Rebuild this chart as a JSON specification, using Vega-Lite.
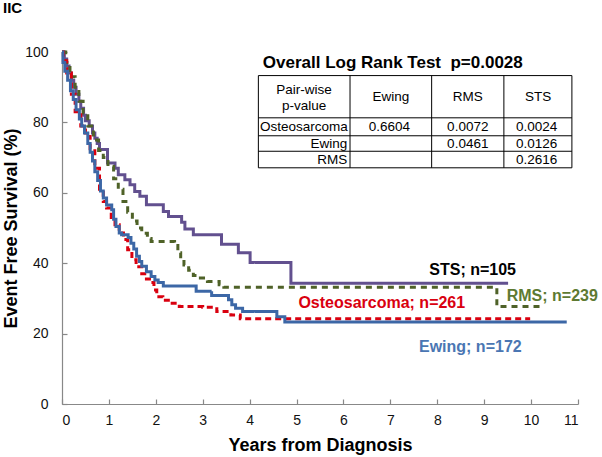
{
  "$schema": "https://vega.github.io/schema/vega-lite/v6.json",
  "width": 516,
  "height": 352,
  "autosize": {"type": "none"},
  "padding": {"left": 62, "top": 52, "right": 24, "bottom": 53},
  "background": "white",
  "title": {"text": "IIC", "anchor": "start", "frame": "group", "dx": -59, "offset": 17, "baseline": "alphabetic", "fontSize": 15, "fontWeight": "bold", "font": "Liberation Sans", "color": "#000"},
  "config": {
    "view": {"stroke": null},
    "font": "Liberation Sans",
    "axis": {"grid": false, "domainColor": "#888", "tickColor": "#888", "labelColor": "#111", "titleColor": "#000", "labelFont": "Liberation Sans", "titleFont": "Liberation Sans", "labelFontSize": 14, "titleFontSize": 18, "titleFontWeight": "bold", "tickSize": -5, "domainWidth": 1.2, "tickWidth": 1.2}
  },
  "datasets": {
    "curves": [
      {"group":"STS","t":0,"v":100},{"group":"STS","t":0.05,"v":98},{"group":"STS","t":0.1,"v":96},{"group":"STS","t":0.15,"v":94},{"group":"STS","t":0.2,"v":92},{"group":"STS","t":0.25,"v":90},{"group":"STS","t":0.3,"v":88},{"group":"STS","t":0.36,"v":86},{"group":"STS","t":0.4,"v":84},{"group":"STS","t":0.46,"v":82},{"group":"STS","t":0.5,"v":80.5},{"group":"STS","t":0.58,"v":79},{"group":"STS","t":0.65,"v":77},{"group":"STS","t":0.7,"v":75.5},{"group":"STS","t":0.75,"v":74},{"group":"STS","t":0.8,"v":72.3},{"group":"STS","t":0.97,"v":68.5},{"group":"STS","t":1.13,"v":67},{"group":"STS","t":1.2,"v":65.1},{"group":"STS","t":1.34,"v":63.7},{"group":"STS","t":1.45,"v":62.3},{"group":"STS","t":1.55,"v":60.4},{"group":"STS","t":1.66,"v":59},{"group":"STS","t":1.8,"v":56.6},{"group":"STS","t":2.16,"v":54.7},{"group":"STS","t":2.27,"v":53.3},{"group":"STS","t":2.55,"v":51.6},{"group":"STS","t":2.62,"v":49.7},{"group":"STS","t":2.8,"v":48.1},{"group":"STS","t":3.4,"v":45.4},{"group":"STS","t":3.76,"v":43},{"group":"STS","t":4.01,"v":40.2},{"group":"STS","t":4.88,"v":34.3},{"group":"STS","t":9.51,"v":34.3},
      {"group":"RMS","t":0,"v":100},{"group":"RMS","t":0.08,"v":97},{"group":"RMS","t":0.17,"v":93},{"group":"RMS","t":0.28,"v":90},{"group":"RMS","t":0.36,"v":86},{"group":"RMS","t":0.45,"v":82.7},{"group":"RMS","t":0.55,"v":79},{"group":"RMS","t":0.67,"v":75},{"group":"RMS","t":0.78,"v":72},{"group":"RMS","t":0.88,"v":70},{"group":"RMS","t":0.98,"v":67.5},{"group":"RMS","t":1.1,"v":64},{"group":"RMS","t":1.2,"v":61},{"group":"RMS","t":1.3,"v":57.5},{"group":"RMS","t":1.4,"v":54.5},{"group":"RMS","t":1.5,"v":52},{"group":"RMS","t":1.6,"v":50},{"group":"RMS","t":1.7,"v":48.5},{"group":"RMS","t":1.82,"v":47},{"group":"RMS","t":1.9,"v":46.2},{"group":"RMS","t":2.4,"v":45},{"group":"RMS","t":2.47,"v":43},{"group":"RMS","t":2.53,"v":41},{"group":"RMS","t":2.6,"v":39.5},{"group":"RMS","t":2.7,"v":38},{"group":"RMS","t":2.8,"v":36.5},{"group":"RMS","t":2.95,"v":35.8},{"group":"RMS","t":3.1,"v":34.8},{"group":"RMS","t":3.35,"v":33.9},{"group":"RMS","t":3.45,"v":33.2},{"group":"RMS","t":9.27,"v":27.7},{"group":"RMS","t":10.23,"v":27.7},
      {"group":"Osteosarcoma","t":0,"v":100},{"group":"Osteosarcoma","t":0.03,"v":97.5},{"group":"Osteosarcoma","t":0.1,"v":94},{"group":"Osteosarcoma","t":0.2,"v":88},{"group":"Osteosarcoma","t":0.28,"v":83},{"group":"Osteosarcoma","t":0.4,"v":79},{"group":"Osteosarcoma","t":0.5,"v":76},{"group":"Osteosarcoma","t":0.6,"v":72.5},{"group":"Osteosarcoma","t":0.7,"v":67},{"group":"Osteosarcoma","t":0.8,"v":61},{"group":"Osteosarcoma","t":0.88,"v":57.5},{"group":"Osteosarcoma","t":0.95,"v":55.7},{"group":"Osteosarcoma","t":1.05,"v":53},{"group":"Osteosarcoma","t":1.13,"v":50.9},{"group":"Osteosarcoma","t":1.22,"v":48.6},{"group":"Osteosarcoma","t":1.31,"v":46.7},{"group":"Osteosarcoma","t":1.4,"v":43.8},{"group":"Osteosarcoma","t":1.49,"v":41},{"group":"Osteosarcoma","t":1.58,"v":39},{"group":"Osteosarcoma","t":1.7,"v":37},{"group":"Osteosarcoma","t":1.8,"v":35.5},{"group":"Osteosarcoma","t":1.9,"v":34.5},{"group":"Osteosarcoma","t":1.96,"v":32.4},{"group":"Osteosarcoma","t":2.02,"v":30.5},{"group":"Osteosarcoma","t":2.15,"v":29.5},{"group":"Osteosarcoma","t":2.3,"v":28.6},{"group":"Osteosarcoma","t":2.5,"v":27.7},{"group":"Osteosarcoma","t":3.0,"v":27.5},{"group":"Osteosarcoma","t":3.3,"v":26.3},{"group":"Osteosarcoma","t":3.6,"v":25.3},{"group":"Osteosarcoma","t":3.8,"v":24.2},{"group":"Osteosarcoma","t":9.98,"v":24.2},
      {"group":"Ewing","t":0,"v":100},{"group":"Ewing","t":0.02,"v":97},{"group":"Ewing","t":0.06,"v":94.5},{"group":"Ewing","t":0.12,"v":92},{"group":"Ewing","t":0.18,"v":89},{"group":"Ewing","t":0.24,"v":86.5},{"group":"Ewing","t":0.3,"v":83.6},{"group":"Ewing","t":0.37,"v":81},{"group":"Ewing","t":0.42,"v":79},{"group":"Ewing","t":0.48,"v":77},{"group":"Ewing","t":0.55,"v":74},{"group":"Ewing","t":0.6,"v":71.5},{"group":"Ewing","t":0.65,"v":69},{"group":"Ewing","t":0.7,"v":66},{"group":"Ewing","t":0.76,"v":63.5},{"group":"Ewing","t":0.82,"v":60.5},{"group":"Ewing","t":0.88,"v":58.5},{"group":"Ewing","t":0.95,"v":56.5},{"group":"Ewing","t":1.06,"v":55.2},{"group":"Ewing","t":1.1,"v":52.5},{"group":"Ewing","t":1.15,"v":50.4},{"group":"Ewing","t":1.22,"v":48.6},{"group":"Ewing","t":1.27,"v":48.1},{"group":"Ewing","t":1.41,"v":47.3},{"group":"Ewing","t":1.47,"v":45.7},{"group":"Ewing","t":1.53,"v":44},{"group":"Ewing","t":1.59,"v":42},{"group":"Ewing","t":1.65,"v":40.5},{"group":"Ewing","t":1.7,"v":39.1},{"group":"Ewing","t":1.8,"v":37.6},{"group":"Ewing","t":1.9,"v":36.2},{"group":"Ewing","t":1.98,"v":35.2},{"group":"Ewing","t":2.05,"v":34.5},{"group":"Ewing","t":2.16,"v":33.5},{"group":"Ewing","t":2.86,"v":32},{"group":"Ewing","t":3.19,"v":30.8},{"group":"Ewing","t":3.55,"v":29.6},{"group":"Ewing","t":3.62,"v":28.2},{"group":"Ewing","t":3.7,"v":27.2},{"group":"Ewing","t":3.85,"v":26.3},{"group":"Ewing","t":4.58,"v":24.8},{"group":"Ewing","t":4.75,"v":23.3},{"group":"Ewing","t":10.76,"v":23.3}
    ],
    "labels": [
      {"group":"STS","label":"STS; n=105","t":7.83,"v":38.1},
      {"group":"Osteosarcoma","label":"Osteosarcoma; n=261","t":5.04,"v":28.6},
      {"group":"RMS","label":"RMS; n=239","t":9.48,"v":30.7},
      {"group":"Ewing","label":"Ewing; n=172","t":7.61,"v":16.1}
    ],
    "grid": [
      {"t1":4.186,"t2":10.87,"v1":93.3,"v2":93.3},
      {"t1":4.186,"t2":10.87,"v1":81.3,"v2":81.3},
      {"t1":4.186,"t2":10.87,"v1":76.2,"v2":76.2},
      {"t1":4.186,"t2":10.87,"v1":71.8,"v2":71.8},
      {"t1":4.186,"t2":10.87,"v1":67.1,"v2":67.1},
      {"t1":4.186,"t2":4.186,"v1":67.1,"v2":93.3},
      {"t1":6.14,"t2":6.14,"v1":67.1,"v2":93.3},
      {"t1":7.88,"t2":7.88,"v1":67.1,"v2":93.3},
      {"t1":9.42,"t2":9.42,"v1":67.1,"v2":93.3},
      {"t1":10.87,"t2":10.87,"v1":67.1,"v2":93.3}
    ],
    "cells": [
      {"pos":"center","text":"Pair-wise","t":5.16,"v":89.3},
      {"pos":"center","text":"p-value","t":5.16,"v":84.8},
      {"pos":"center","text":"Ewing","t":7.01,"v":87.1},
      {"pos":"center","text":"RMS","t":8.65,"v":87.1},
      {"pos":"center","text":"STS","t":10.15,"v":87.1},
      {"pos":"left","text":"Osteosarcoma","t":4.22,"v":78.7},
      {"pos":"center","text":"0.6604","t":6.98,"v":78.7},
      {"pos":"center","text":"0.0072","t":8.65,"v":78.7},
      {"pos":"center","text":"0.0024","t":10.12,"v":78.7},
      {"pos":"right","text":"Ewing","t":6.08,"v":74.0},
      {"pos":"center","text":"0.0461","t":8.65,"v":74.0},
      {"pos":"center","text":"0.0126","t":10.12,"v":74.0},
      {"pos":"right","text":"RMS","t":6.08,"v":69.4},
      {"pos":"center","text":"0.2616","t":10.12,"v":69.4}
    ],
    "heading": [
      {"text":"Overall Log Rank Test\u00a0 p=0.0028","t":4.28,"v":96.9}
    ]
  },
  "layer": [
    {
      "data": {"name": "curves"},
      "mark": {"type": "line", "interpolate": "step-after", "strokeWidth": 3, "strokeCap": "butt"},
      "encoding": {
        "x": {"field": "t", "type": "quantitative", "scale": {"domain": [0, 11], "nice": false}, "axis": {"values": [0,1,2,3,4,5,6,7,8,9,10,11], "title": "Years from Diagnosis", "labelPadding": 14, "titlePadding": 9}},
        "y": {"field": "v", "type": "quantitative", "scale": {"domain": [0, 100], "nice": false}, "axis": {"values": [0,20,40,60,80,100], "title": "Event Free Survival (%)", "labelPadding": 19, "titlePadding": 4}},
        "detail": {"field": "group"},
        "color": {"field": "group", "type": "nominal", "legend": null, "scale": {"domain": ["STS","RMS","Osteosarcoma","Ewing"], "range": ["#62508f","#4f6228","#d9000f","#3c67a6"]}},
        "strokeDash": {"field": "group", "type": "nominal", "legend": null, "scale": {"domain": ["STS","RMS","Osteosarcoma","Ewing"], "range": [[1,0],[6,5],[6,4],[1,0]]}}
      }
    },
    {
      "data": {"name": "labels"},
      "mark": {"type": "text", "align": "left", "baseline": "middle", "fontSize": 16, "fontWeight": "bold", "font": "Liberation Sans"},
      "encoding": {
        "x": {"field": "t", "type": "quantitative"},
        "y": {"field": "v", "type": "quantitative"},
        "text": {"field": "label"},
        "color": {"field": "group", "type": "nominal", "legend": null, "scale": {"domain": ["STS","RMS","Osteosarcoma","Ewing"], "range": ["#000000","#5e7a32","#d9000f","#4a76b3"]}}
      }
    },
    {
      "data": {"name": "grid"},
      "mark": {"type": "rule", "color": "#000", "strokeWidth": 1},
      "encoding": {
        "x": {"field": "t1", "type": "quantitative"},
        "x2": {"field": "t2"},
        "y": {"field": "v1", "type": "quantitative"},
        "y2": {"field": "v2"}
      }
    },
    {
      "data": {"name": "cells"},
      "transform": [{"filter": "datum.pos === 'center'"}],
      "mark": {"type": "text", "align": "center", "baseline": "middle", "fontSize": 13.5, "font": "Liberation Sans", "color": "#000"},
      "encoding": {"x": {"field": "t", "type": "quantitative"}, "y": {"field": "v", "type": "quantitative"}, "text": {"field": "text"}}
    },
    {
      "data": {"name": "cells"},
      "transform": [{"filter": "datum.pos === 'left'"}],
      "mark": {"type": "text", "align": "left", "baseline": "middle", "fontSize": 13.5, "font": "Liberation Sans", "color": "#000"},
      "encoding": {"x": {"field": "t", "type": "quantitative"}, "y": {"field": "v", "type": "quantitative"}, "text": {"field": "text"}}
    },
    {
      "data": {"name": "cells"},
      "transform": [{"filter": "datum.pos === 'right'"}],
      "mark": {"type": "text", "align": "right", "baseline": "middle", "fontSize": 13.5, "font": "Liberation Sans", "color": "#000"},
      "encoding": {"x": {"field": "t", "type": "quantitative"}, "y": {"field": "v", "type": "quantitative"}, "text": {"field": "text"}}
    },
    {
      "data": {"name": "heading"},
      "mark": {"type": "text", "align": "left", "baseline": "middle", "fontSize": 17, "fontWeight": "bold", "font": "Liberation Sans", "color": "#000"},
      "encoding": {"x": {"field": "t", "type": "quantitative"}, "y": {"field": "v", "type": "quantitative"}, "text": {"field": "text"}}
    }
  ],
  "resolve": {"scale": {"color": "independent"}}
}
